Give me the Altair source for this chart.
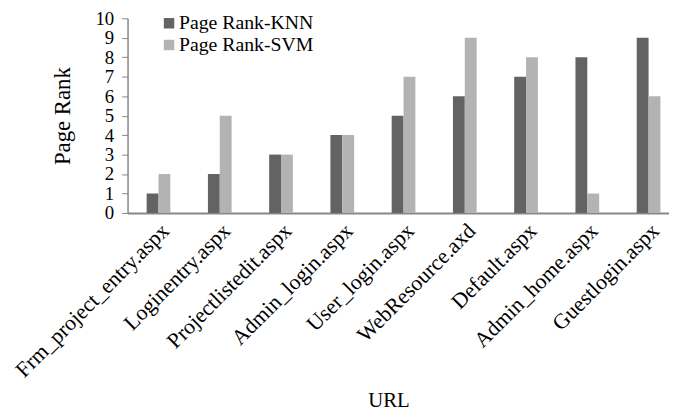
import altair as alt
import pandas as pd

urls = ["Frm_project_entry.aspx", "Loginentry.aspx", "Projectlistedit.aspx",
        "Admin_login.aspx", "User_login.aspx", "WebResource.axd",
        "Default.aspx", "Admin_home.aspx", "Guestlogin.aspx"]
knn = [1, 2, 3, 4, 5, 6, 7, 8, 9]
svm = [2, 5, 3, 4, 7, 9, 8, 1, 6]
series = ["Page Rank-KNN", "Page Rank-SVM"]
colors = ["#636363", "#b3b3b3"]
y_ticks = list(range(0, 11))

rows = []
for u, a, b in zip(urls, knn, svm):
    rows.append({"URL": u, "Series": series[0], "Rank": a})
    rows.append({"URL": u, "Series": series[1], "Rank": b})
df = pd.DataFrame(rows)

FONT = "Liberation Serif"

chart = alt.Chart(df).mark_bar().encode(
    x=alt.X("URL:N", sort=urls,
            scale=alt.Scale(paddingInner=0.613, paddingOuter=0.226, align=0.69),
            axis=alt.Axis(title="URL", labelAngle=-45, labelAlign="right",
                          labelBaseline="top", labelPadding=7, ticks=False,
                          labelLimit=0, labelOverlap=False,
                          domainColor="#878787", domainWidth=2,
                          labelFont=FONT, labelFontSize=22, labelColor="#000",
                          titleFont=FONT, titleFontSize=21, titleFontWeight="normal",
                          titleColor="#000", titlePadding=9, titleX=264)),
    xOffset=alt.XOffset("Series:N", sort=series, scale=alt.Scale(paddingInner=0, paddingOuter=0)),
    y=alt.Y("Rank:Q", scale=alt.Scale(domain=[0, 10], nice=False),
            axis=alt.Axis(title="Page Rank", values=y_ticks, grid=False,
                          labelOverlap=False, labelFlush=False,
                          tickColor="#878787", tickSize=6, domainColor="#878787",
                          domainWidth=1.5, labelPadding=8,
                          labelFont=FONT, labelFontSize=19, labelColor="#000",
                          titleFont=FONT, titleFontSize=23, titleFontWeight="normal",
                          titleColor="#000", titlePadding=21)),
    color=alt.Color("Series:N", sort=series,
                    scale=alt.Scale(domain=series, range=colors),
                    legend=alt.Legend(title=None, orient="none", legendX=32, legendY=-5,
                                      symbolType="square", symbolSize=112,
                                      symbolStrokeWidth=0, padding=0, rowPadding=2,
                                      labelFont=FONT, labelFontSize=20, labelColor="#000",
                                      labelOffset=0)),
).properties(
    width=548, height=197,
    autosize=alt.AutoSizeParams(type="none"),
    padding={"left": 121, "top": 8, "right": 0, "bottom": 200},
).configure_view(stroke=None)

chart.save("out.html", embed_options={"renderer": "svg", "actions": False})
